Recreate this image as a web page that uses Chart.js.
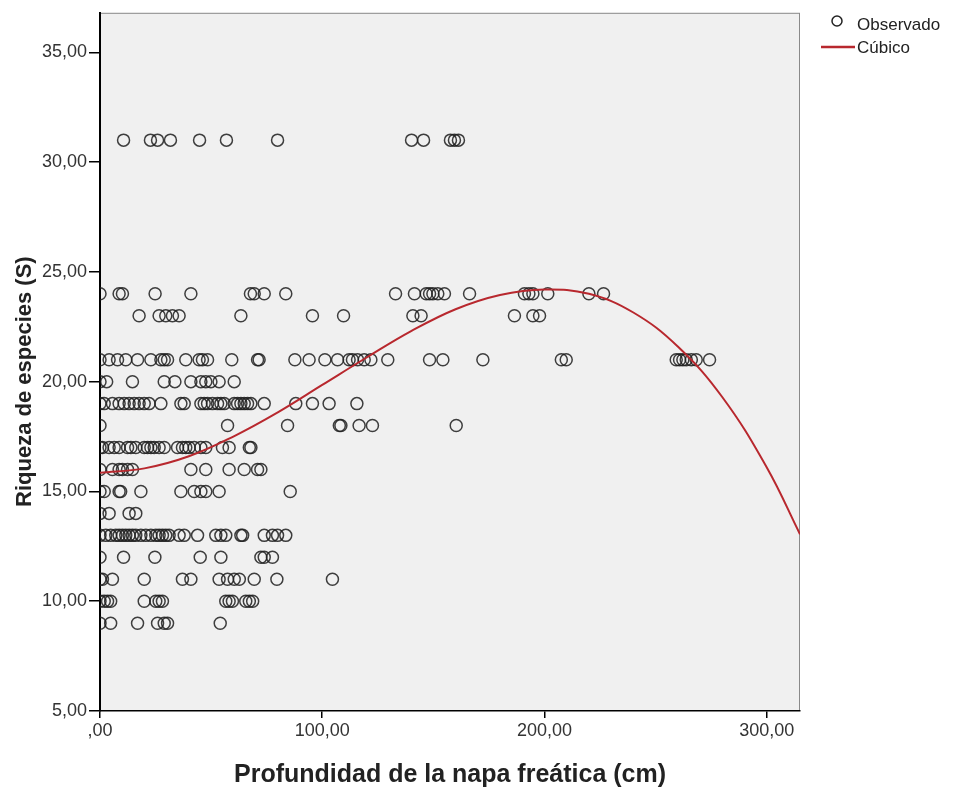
<!DOCTYPE html>
<html>
<head>
<meta charset="utf-8">
<script src="https://cdn.jsdelivr.net/npm/chart.js@4.4.1/dist/chart.umd.min.js"></script>
<style>
  html, body { margin: 0; padding: 0; background: #fff; }
  #wrap { width: 953px; height: 791px; }
</style>
</head>
<body>
<div id="wrap"><canvas id="chart" width="953" height="791"></canvas></div>
<script>
// Observed points: depth (cm) for each richness level S
const richnessLevels = [31, 24, 23, 21, 20, 19, 18, 17, 16, 15, 14, 13, 12, 11, 10, 9];
const depthS31 = [10.6, 22.7, 25.9, 31.7, 44.8, 56.9, 79.9, 140.2, 145.6, 157.7, 159.5, 161.3];
const depthS24 = [0, 8.6, 10.1, 24.8, 40.9, 67.7, 69.4, 73.9, 83.6, 133, 141.5, 146.8, 148.3, 149.8, 152, 155, 166.3, 191, 193, 194.8, 201.5, 220, 226.6];
const depthS23 = [17.6, 26.6, 29.6, 32.6, 35.6, 63.4, 95.6, 109.6, 140.8, 144.5, 186.5, 194.8, 197.8];
const depthS21 = [0, 4.1, 7.9, 11.6, 16.9, 22.9, 27.4, 28.9, 30.4, 38.6, 44.6, 46.1, 48.4, 59.3, 70.9, 71.6, 87.7, 94.1, 101.2, 106.9, 112.1, 113.6, 115.9, 118.9, 121.9, 129.5, 148.3, 154.3, 172.3, 207.6, 209.8, 259.3, 260.8, 262.3, 263.8, 266.1, 268.3, 274.3];
const depthS20 = [0, 3.0, 14.6, 28.9, 33.7, 40.9, 45.4, 47.6, 49.9, 53.6, 60.4];
const depthS19 = [0, 1.9, 5.6, 8.6, 10.9, 13.1, 15.4, 17.6, 19.9, 22.1, 27.4, 36.4, 37.9, 45.4, 46.9, 48.4, 50.6, 52.9, 54.4, 55.9, 60.4, 61.9, 63.4, 64.9, 66.4, 67.9, 73.9, 88.1, 95.6, 103.1, 115.6];
const depthS18 = [0, 57.4, 84.4, 107.7, 108.4, 116.6, 122.6, 160.3];
const depthS17 = [0, 1.1, 4.1, 6.4, 8.6, 12.4, 13.9, 16.1, 19.9, 21.4, 22.9, 24.4, 26.6, 28.9, 34.9, 37.1, 38.6, 40.1, 42.4, 45.4, 47.6, 55.1, 58.1, 67.2, 67.9];
const depthS16 = [0, 5.6, 8.6, 10.1, 12.4, 14.6, 40.9, 47.6, 58.1, 64.9, 70.9, 72.4];
const depthS15 = [0, 1.9, 8.6, 9.3, 18.4, 36.4, 42.4, 45.4, 47.6, 53.6, 85.6];
const depthS14 = [0, 4.1, 13.1, 16.1];
const depthS13 = [0, 2.6, 4.8, 7.1, 8.6, 10.1, 11.6, 13.1, 14.6, 16.1, 18.4, 20.6, 22.9, 25.1, 26.6, 28.1, 29.6, 31.1, 35.6, 37.9, 43.9, 52.1, 54.4, 56.6, 63.4, 64.2, 73.9, 77.6, 79.9, 83.6];
const depthS12 = [0, 10.6, 24.7, 45.1, 54.4, 72.4, 73.9, 77.6];
const depthS11 = [0, 1.1, 5.6, 19.9, 37.1, 40.9, 53.6, 57.4, 60.4, 62.7, 69.4, 79.6, 104.6];
const depthS10 = [0, 1.9, 3.4, 4.8, 19.9, 25.1, 26.6, 28.1, 56.6, 58.1, 59.6, 65.6, 67.2, 68.7];
const depthS9 = [0, 4.8, 16.9, 25.9, 28.9, 30.4, 54.1];

const depthsByLevel = [depthS31, depthS24, depthS23, depthS21, depthS20, depthS19, depthS18,
  depthS17, depthS16, depthS15, depthS14, depthS13, depthS12, depthS11, depthS10, depthS9];

// Cubic fit line
const cubicX = [0, 20, 40, 60, 80, 100, 120, 140, 160, 180, 200, 220, 240, 260, 280, 300, 315];
const cubicY = [15.85, 16.05, 16.6, 17.5, 18.6, 19.85, 21.1, 22.3, 23.3, 23.95, 24.2, 24.0, 23.15, 21.6, 19.3, 16.1, 13.05];

const xTicks = [0, 100, 200, 300];
const yTicks = [5, 10, 15, 20, 25, 30, 35];

const observed = [];
richnessLevels.forEach((s, i) => {
  depthsByLevel[i].forEach(d => observed.push({ x: d, y: s }));
});
const cubic = cubicX.map((x, i) => ({ x: x, y: cubicY[i] }));

const fmt = v => (v === 0 ? ",00" : v.toFixed(2).replace(".", ","));
const FONT = "Arial, 'Liberation Sans', sans-serif";

const plotFrame = {
  id: "plotFrame",
  beforeDraw(chart) {
    const { ctx, chartArea: a } = chart;
    ctx.save();
    ctx.fillStyle = "#f0f0f0";
    ctx.fillRect(a.left, a.top, a.right - a.left, a.bottom - a.top);
    ctx.strokeStyle = "#8a8a8a";
    ctx.lineWidth = 1;
    ctx.strokeRect(a.left + 0.5, a.top + 0.5, a.right - a.left - 1, a.bottom - a.top - 1);
    ctx.restore();
  },
  afterDraw(chart) {
    const { ctx } = chart;
    const yScale = chart.scales.y;
    ctx.save();
    // y axis title, centred on the tick range
    const yc = (yScale.getPixelForValue(yTicks[0]) + yScale.getPixelForValue(yTicks[yTicks.length - 1])) / 2;
    ctx.translate(25, yc);
    ctx.rotate(-Math.PI / 2);
    ctx.fillStyle = "#222";
    ctx.font = "bold 22px " + FONT;
    ctx.textAlign = "center";
    ctx.textBaseline = "middle";
    ctx.fillText("Riqueza de especies (S)", 0, 0);
    ctx.restore();

    // legend
    ctx.save();
    ctx.font = "17px " + FONT;
    ctx.fillStyle = "#222";
    ctx.textBaseline = "middle";
    ctx.beginPath();
    ctx.arc(837, 21, 5, 0, Math.PI * 2);
    ctx.strokeStyle = "#222";
    ctx.lineWidth = 1.5;
    ctx.stroke();
    ctx.fillText("Observado", 857, 25);
    ctx.beginPath();
    ctx.moveTo(821, 47);
    ctx.lineTo(855, 47);
    ctx.strokeStyle = "#b8282e";
    ctx.lineWidth = 2.5;
    ctx.stroke();
    ctx.fillText("Cúbico", 857, 48);
    ctx.restore();
  }
};

new Chart(document.getElementById("chart"), {
  type: "scatter",
  data: {
    datasets: [
      {
        label: "Cúbico",
        type: "line",
        data: cubic,
        borderColor: "#b8282e",
        borderWidth: 2,
        pointRadius: 0,
        tension: 0.4,
        fill: false,
        clip: 0,
        order: 0
      },
      {
        label: "Observado",
        data: observed,
        pointStyle: "circle",
        pointRadius: 6,
        pointBorderWidth: 1.5,
        borderColor: "rgba(30,30,30,0.85)",
        backgroundColor: "rgba(0,0,0,0)",
        clip: { left: 0, top: 0, right: 0, bottom: 0 },
        order: 1
      }
    ]
  },
  options: {
    responsive: false,
    animation: false,
    layout: { padding: { left: 0, top: 8, right: 153, bottom: 0 }, autoPadding: false },
    plugins: { legend: { display: false }, tooltip: { enabled: false } },
    scales: {
      x: {
        type: "linear",
        min: 0,
        max: 315,
        afterFit: s => { s.height = 80; },
        afterBuildTicks: s => { s.ticks = xTicks.map(v => ({ value: v })); },
        ticks: { callback: fmt, font: { family: FONT, size: 18 }, color: "#333", padding: 2, maxRotation: 0 },
        grid: { drawOnChartArea: false, drawTicks: true, tickLength: 7, color: "#000", lineWidth: 1.5 },
        border: { display: true, color: "#000", width: 1.5 },
        title: {
          display: true,
          text: "Profundidad de la napa freática (cm)",
          font: { family: FONT, size: 25, weight: "bold" },
          color: "#222",
          padding: { top: 0, bottom: 1 }
        }
      },
      y: {
        type: "linear",
        min: 5,
        max: 36.8,
        afterFit: s => { s.width = 100; },
        afterBuildTicks: s => { s.ticks = yTicks.map(v => ({ value: v })); },
        ticks: { callback: fmt, font: { family: FONT, size: 18 }, color: "#333", padding: 2 },
        grid: { drawOnChartArea: false, drawTicks: true, tickLength: 11, color: "#000", lineWidth: 1.5 },
        border: { display: true, color: "#000", width: 2 }
      }
    }
  },
  plugins: [plotFrame]
});
</script>
</body>
</html>
